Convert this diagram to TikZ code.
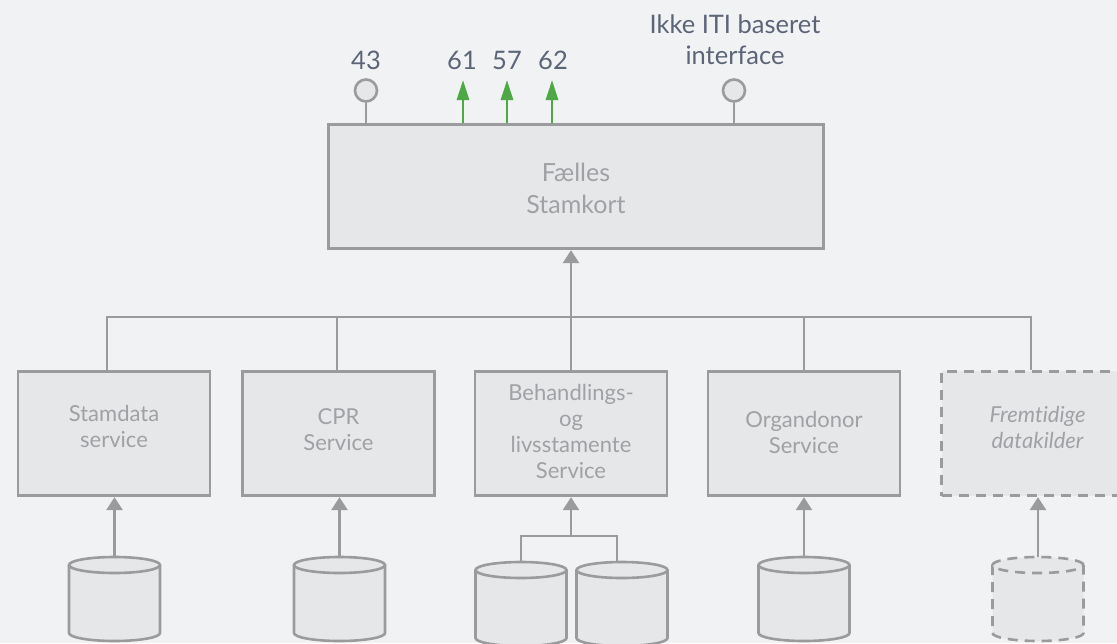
\documentclass[tikz,border=0pt]{standalone}
\usepackage{fontspec}
\setmainfont{Lato}[Ligatures=NoCommon]
\usetikzlibrary{arrows.meta}
\definecolor{bgc}{HTML}{F1F2F4}
\definecolor{boxfill}{HTML}{E6E7E9}
\definecolor{edge}{HTML}{9A9B9D}
\definecolor{boxtxt}{HTML}{A0A1A4}
\definecolor{lbl}{HTML}{5C6577}
\definecolor{grn}{HTML}{4EA845}
% #1 coordinate name, #2 x centre, #3 y of top ellipse centre, #4 extra style
\newcommand\dbcyl[4]{%
  \path[dbs,#4] (#2-45.5,#3) -- (#2-45.5,#3+68)
     arc[start angle=180,end angle=360,x radius=45.5pt,y radius=8pt] -- (#2+45.5,#3);
  \path[dbs,#4] (#2,#3) ellipse[x radius=45.5pt,y radius=8pt];
  \coordinate (#1) at (#2,#3-8);
}
\tikzset{
  box/.style={draw=edge, fill=boxfill, line width=2.8pt, minimum width=192pt,
    minimum height=124.5pt, inner sep=0pt},
  btxt/.style={text=boxtxt, align=center, font=\fontsize{22}{26}\selectfont},
  conn/.style={draw=edge, line width=2.6pt},
  garrow/.style={conn, -{Triangle[length=13pt,width=16pt]}},
  greenarrow/.style={draw=grn, line width=2.8pt, -{Triangle[length=20pt,width=12pt]}},
  port/.style={circle, draw=edge, fill=boxfill, line width=2.6pt, minimum size=22pt, inner sep=0pt},
  toplbl/.style={text=lbl, align=center, font=\fontsize{25.5}{31}\selectfont},
  dbs/.style={draw=edge, fill=boxfill, line width=2.6pt},
  dashpat/.style={dash pattern=on 10pt off 7pt},
}
\begin{document}
\begin{tikzpicture}[x=1pt,y=-1pt]
\useasboundingbox (0,0) rectangle (1117,643);
\fill[bgc] (0,0) rectangle (1117,643);

% main box
\node[box, minimum width=495.5pt] (fs) at (576,186.5) {};
\node[text=boxtxt, align=center, font=\fontsize{25}{32}\selectfont] (fst) at (576,188) {Fælles\\Stamkort};

% top ports and arrows
\node[port] (p43) at (366,90.5) {};
\node[port] (piti) at (734,90.5) {};
\draw[conn] (p43) -- (p43 |- fs.north);
\draw[conn] (piti) -- (piti |- fs.north);
\coordinate (g61) at (463,80);
\coordinate (g57) at (507,80);
\coordinate (g62) at (552,80);
\draw[greenarrow] (g61 |- fs.north) -- (g61);
\draw[greenarrow] (g57 |- fs.north) -- (g57);
\draw[greenarrow] (g62 |- fs.north) -- (g62);
\node[toplbl] (l43) at (366,60) {43};
\node[toplbl] (l61) at (462,60) {61};
\node[toplbl] (l57) at (507,60) {57};
\node[toplbl] (l62) at (553,60) {62};
\node[toplbl] (liti) at (735,39.5) {Ikke ITI baseret\\interface};

% service boxes
\node[box] (b1) at (114,433.5) {};
\node[box] (b2) at (338.5,433.5) {};
\node[box] (b3) at (571,433.5) {};
\node[box] (b4) at (804,433.5) {};
\node[box, dashpat] (b5) at (1037.5,433.5) {};
\node[btxt] (t1) at (114,426) {Stamdata\\service};
\node[btxt] (t2) at (338.5,430) {CPR\\Service};
\node[btxt] (t3) at (571,431) {Behandlings-\\og\\livsstamente\\Service};
\node[btxt] (t4) at (804,432.5) {Organdonor\\Service};
\node[btxt, font=\fontsize{22}{26}\selectfont\itshape] (t5) at (1037.5,427) {Fremtidige\\datakilder};

% bus
\coordinate (j1) at (107,317);
\coordinate (j2) at (337,317);
\coordinate (j3) at (571,317);
\coordinate (j4) at (804,317);
\coordinate (j5) at (1031,317);
\draw[conn] (j1 |- b1.north) -- (j1) -- (j5) -- (j5 |- b5.north);
\draw[conn] (j2) -- (j2 |- b2.north);
\draw[conn] (j3) -- (j3 |- b3.north);
\draw[conn] (j4) -- (j4 |- b4.north);
\draw[garrow] (j3) -- (j3 |- fs.south);

% databases
\dbcyl{d1}{114.5}{565}{}
\dbcyl{d2}{339.5}{565}{}
\dbcyl{d3a}{521}{570}{}
\dbcyl{d3b}{622}{570}{}
\dbcyl{d4}{804}{565}{}
\dbcyl{d5}{1038}{565}{dashpat}
\draw[garrow] (d1) -- (d1 |- b1.south);
\draw[garrow] (d2) -- (d2 |- b2.south);
\draw[garrow] (d4) -- (d4 |- b4.south);
\draw[garrow] (d5) -- (d5 |- b5.south);
\coordinate (jb) at (571,536);
\coordinate (ba) at (521,562);
\coordinate (bb) at (617,562);
\draw[conn] (ba) -- (ba |- jb) -- (bb |- jb) -- (bb);
\draw[garrow] (jb) -- (b3.south);
\end{tikzpicture}
\end{document}
